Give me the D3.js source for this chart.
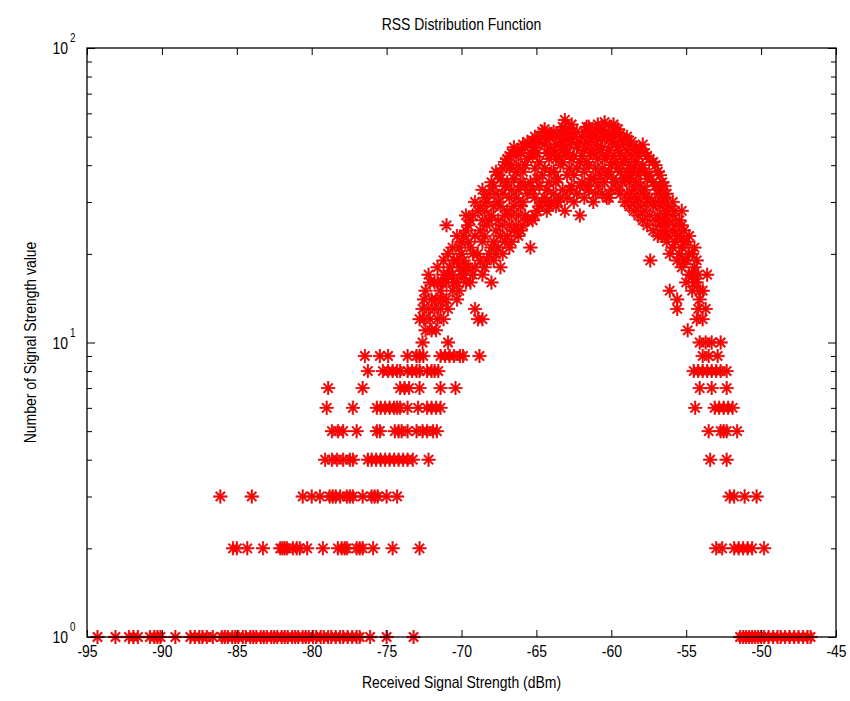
<!DOCTYPE html>
<html>
<head>
<meta charset="utf-8">
<script src="https://cdn.jsdelivr.net/npm/d3@7/dist/d3.min.js"></script>
<style>
  html, body { margin: 0; padding: 0; background: #fff; }
  text { font-family: "Liberation Sans", Arial, Helvetica, sans-serif; fill: #000; }
</style>
</head>
<body>
<svg id="chart" width="850" height="701"></svg>
<script>
// ---------------- data ----------------
const chartTitle = "RSS Distribution Function";
const xLabel = "Received Signal Strength (dBm)";
const yLabel = "Number of Signal Strength value";

const xTicks = [-95, -90, -85, -80, -75, -70, -65, -60, -55, -50, -45];
const yMajorTicks = [1, 10, 100];
const yMajorExponents = ["0", "1", "2"];
const yMinorTicks = [2, 3, 4, 5, 6, 7, 8, 9, 20, 30, 40, 50, 60, 70, 80, 90];

// low counts: one row of RSS values per count level
const lowCountLevels = [1, 2, 3, 4, 5, 6, 7, 8, 9, 10];
const lowRssByLevel = [
  [-94.3,-93.1,-92.2,-91.9,-91.6,-90.8,-90.5,-90.3,-90.1,-89.1,-88.1,-87.8,-87.5,-87.3,-87.0,-86.6,
   -86.0,-85.8,-85.6,-85.3,-85.1,-84.9,-84.6,-84.4,-84.1,-83.9,-83.7,-83.4,-83.2,-83.0,-82.7,-82.5,
   -82.3,-82.0,-81.8,-81.6,-81.3,-81.1,-80.9,-80.6,-80.4,-80.2,-79.9,-79.7,-79.4,-79.2,-78.9,-78.7,
   -78.4,-78.1,-77.9,-77.6,-77.3,-77.0,-76.8,-76.1,-75.0,-73.2,
   -51.4,-51.2,-51.0,-50.8,-50.6,-50.4,-50.2,-50.0,-49.8,-49.5,-49.2,-48.9,-48.7,-48.4,-48.1,-47.8,
   -47.5,-47.2,-46.9,-46.7],
  [-85.25,-85.0,-84.3,-83.25,-82.1,-81.95,-81.8,-81.65,-81.25,-81.0,-80.8,-80.3,-79.25,-78.25,-78.0,
   -77.8,-77.65,-77.0,-76.8,-76.6,-75.9,-74.6,-72.8,-53.0,-52.6,-51.8,-51.5,-51.2,-50.9,-50.6,-49.8],
  [-86.1,-84.0,-80.6,-80.0,-79.45,-78.8,-78.6,-78.4,-78.1,-77.65,-77.45,-77.25,-76.6,-76.0,-75.8,
   -75.6,-75.0,-74.3,-52.1,-51.8,-51.1,-50.3],
  [-79.1,-78.65,-78.3,-77.9,-77.45,-77.25,-76.25,-76.0,-75.7,-75.4,-75.1,-74.8,-74.5,-74.2,-73.9,
   -73.6,-73.25,-72.2,-53.4,-52.3],
  [-78.65,-78.25,-77.9,-77.0,-75.65,-75.45,-74.45,-74.2,-74.0,-73.6,-73.0,-72.6,-72.3,-71.9,-71.65,
   -53.5,-52.7,-52.5,-52.3,-51.6],
  [-79.0,-77.25,-75.65,-75.4,-75.1,-74.8,-74.5,-74.3,-74.1,-73.6,-72.9,-72.3,-72.0,-71.7,-71.4,
   -54.4,-53.1,-52.8,-52.5,-52.2,-51.9],
  [-78.9,-76.6,-74.1,-73.8,-73.5,-72.8,-71.4,-70.4,-54.1,-53.3,-52.3],
  [-76.25,-75.25,-74.9,-74.6,-74.3,-74.1,-73.6,-73.3,-73.0,-72.8,-72.3,-72.0,-71.8,-71.55,
   -54.5,-54.2,-53.9,-53.6,-53.3,-53.0,-52.7,-52.3],
  [-76.45,-75.45,-74.9,-73.6,-73.0,-72.8,-72.55,-71.4,-71.1,-70.8,-70.5,-70.1,-69.9,-68.8,
   -53.9,-53.5,-52.9],
  [-72.6,-70.9,-54.1,-53.7,-53.3,-52.7]
];

// high counts: one column per RSS value, with the counts observed there
const highColumnRss = [
  -72.8,-72.6,-72.4,-72.2,-72.0,-71.8,-71.6,-71.4,-71.2,-71.0,-70.8,-70.6,-70.3,-70.0,-69.7,-69.4,
  -69.1,-68.9,-68.6,-68.3,-68.0,-67.7,-67.4,-67.1,-66.8,-66.5,-66.2,-65.9,-65.6,-65.4,-65.1,-64.8,
  -64.6,-64.3,-64.0,-63.7,-63.4,-63.1,-62.8,-62.5,-62.1,-61.8,-61.5,-61.2,-60.9,-60.6,-60.3,-60.0,
  -59.7,-59.4,-59.1,-58.8,-58.5,-58.2,-57.9,-57.6,-57.4,-57.2,-56.9,-56.6,-56.3,-56.1,-55.9,-55.6,
  -55.3,-55.0,-54.9,-54.6,-54.3,-54.1,-53.7,-53.6,
  -72.5,-72.1,-71.7,-71.3,-70.9,-70.5,-70.15,-69.85,-69.55,-69.25,-68.75,-68.45,-68.15,-67.85,-67.55,
  -67.25,-66.95,-66.65,-66.35,-66.05,-65.75,-65.25,-64.95,-64.45,-64.15,-63.85,-63.55,-63.25,-62.95,
  -62.65,-62.3,-61.95,-61.65,-61.35,-61.05,-60.75,-60.45,-60.15,-59.85,-59.55,-59.25,-58.95,-58.65,
  -58.35,-58.05,-57.75,-57.45,-57.05,-56.75,-56.45,-56.2,-55.75,-55.45,-55.15,-54.8,-54.45,-54.2,-53.9
];
const highColumnCounts = [
  [12],[13],[11,15],[13,17],[11,14],[16,13],[12,16,18],[13,15],[12,17,19],[14,25,16],[18],[15,17,21],
  [14,16,19,23],[17,20,22],[16,18,24,27],[16,21,26],[13,18,23,30],[12,20,28],[12,17,22,26,33],
  [19,25,30],[16,21,27,35],[20,24,32,38],[18,23,29,36],[22,27,34,41],[21,25,31,39,43],[24,29,36,46],
  [23,27,33,40,45],[25,30,38,47],[26,32,42,48],[21,35,44],[27,31,39,46,50],[29,34,41,48],
  [52,37,30],[28,33,44,49],[30,38,45,51],[29,35,42,47],[31,40,46,52],[57,28,44,49],[33,39,47,53],
  [30,37,43,50],[27,34,41,48],[31,38,45,52],[33,40,47,54],[30,36,44,50],[34,42,49,55],[32,39,46,53],
  [31,37,43,50],[33,40,48,54],[35,41,47,52],[32,38,44,51],[30,36,42,49],[29,35,40,47],[28,33,39,45],
  [27,31,37,43],[26,32,40,47],[25,30,36,43],[19],[24,29,35,41],[23,27,32,38],[23,26,30,35],
  [22,25,28,32],[15,20],[21,24,27,30],[13,14,19,23],[18,21,25,28],[16,19,22],[11],[15,17,20],
  [12,16,19],[14,15],[13],[17],
  [12,14],[12,16],[14,11],[14,16],[13,17,20],[16,19],[15,18,21],[17,19,23],[18,22,25],[17,20,27],
  [19,24,29],[18,23,28,31],[20,26,32],[19,22,29,34],[21,26,30,37],[20,25,32,39],[23,28,35,42],
  [22,27,33,44,40],[25,31,38,43],[24,29,35,44],[27,34,40,46],[26,33,43,48],[28,36,44,49],
  [31,39,47,53],[29,35,42,50],[32,38,45,52],[30,36,43,50],[33,41,48,54],[31,37,44,51],
  [34,42,49,55],[32,39,46,52],[35,43,50],[34,41,48,54],[36,44,51],[32,39,47,53],[37,45,52],
  [35,42,50,56],[31,38,45,51],[36,43,50,55],[33,39,46,53],[35,41,48],[32,38,45,50],[31,37,43,48],
  [30,35,41,46],[29,34,39,45],[28,33,38,44],[27,31,37,42],[26,30,34,40],[25,29,33,37],[24,27,31,34],
  [23,26,29],[22,25,28],[20,23,26],[19,22,24],[17,20,23],[16,18,21],[13,17],[12,15]
];

// ---------------- chart ----------------
const svg = d3.select("#chart");
const plot = { left: 87, right: 836, top: 48, bottom: 637 };
const FONT = '"Liberation Sans Narrow", "Liberation Sans", Arial, sans-serif';
const FS = 17;

const x = d3.scaleLinear().domain([-95, -45]).range([plot.left, plot.right]);
const y = d3.scaleLog().domain([1, 100]).range([plot.bottom, plot.top]);

// condense text to a narrow look (keeps the tall glyphs of the reference)
function condense(sel, factor) {
  sel.each(function () {
    const fam = window.getComputedStyle(this).fontFamily || "";
    const w = this.getComputedTextLength();
    const f = /Narrow/.test(fam) && document.fonts && document.fonts.check(`${FS}px "Liberation Sans Narrow"`) ? 1 : factor;
    if (w > 0 && f !== 1) {
      d3.select(this).attr("textLength", w * f).attr("lengthAdjust", "spacingAndGlyphs");
    }
  });
}

// build point list from the arrays
const points = [];
lowCountLevels.forEach((c, i) => lowRssByLevel[i].forEach(r => points.push({ rss: r, count: c })));
highColumnRss.forEach((r, i) => highColumnCounts[i].forEach(c => points.push({ rss: r, count: c })));

svg.append("rect").attr("x", 0).attr("y", 0).attr("width", 850).attr("height", 701).attr("fill", "#fff");

// markers (asterisks)
const armLong = 7, armDiag = 4.6;
const starPath = `M${-armLong},0H${armLong}M0,${-armLong}V${armLong}` +
  `M${-armDiag},${-armDiag}L${armDiag},${armDiag}M${-armDiag},${armDiag}L${armDiag},${-armDiag}`;

const marks = svg.append("g").attr("class", "marks");
marks.append("g").selectAll("path")
  .data(points)
  .join("path")
  .attr("transform", d => `translate(${x(d.rss)},${y(d.count)})`)
  .attr("d", starPath)
  .attr("fill", "none")
  .attr("stroke", "#9a1010")
  .attr("stroke-width", 2.3)
  .attr("stroke-opacity", 0.55);
marks.append("g").selectAll("path")
  .data(points)
  .join("path")
  .attr("transform", d => `translate(${x(d.rss)},${y(d.count)})`)
  .attr("d", starPath)
  .attr("fill", "none")
  .attr("stroke", "#ff0000")
  .attr("stroke-width", 1.5);

// axes: ticks inward on all sides
const tickLen = 7;
const xBottom = d3.axisBottom(x).tickValues(xTicks).tickSizeInner(-tickLen).tickSizeOuter(0)
  .tickPadding(8).tickFormat(d3.format("d"));
const gxb = svg.append("g").attr("transform", `translate(0,${plot.bottom})`).call(xBottom);
gxb.select(".domain").remove();
gxb.selectAll("text").attr("font-size", FS).attr("font-family", FONT)
  .attr("dy", "0.71em").text(d => String(d).replace("\u2212", "-"));
condense(gxb.selectAll("text"), 0.82);

const xTop = d3.axisTop(x).tickValues(xTicks).tickSizeInner(-tickLen).tickSizeOuter(0).tickFormat("");
const gxt = svg.append("g").attr("transform", `translate(0,${plot.top})`).call(xTop);
gxt.select(".domain").remove();

// y major & minor ticks, left and right
const yLeftMajor = d3.axisLeft(y).tickValues(yMajorTicks).tickSizeInner(-8).tickSizeOuter(0).tickFormat("");
const yLeftMinor = d3.axisLeft(y).tickValues(yMinorTicks).tickSizeInner(-5).tickSizeOuter(0).tickFormat("");
const yRightMajor = d3.axisRight(y).tickValues(yMajorTicks).tickSizeInner(-8).tickSizeOuter(0).tickFormat("");
const yRightMinor = d3.axisRight(y).tickValues(yMinorTicks).tickSizeInner(-5).tickSizeOuter(0).tickFormat("");
[
  [yLeftMajor, plot.left], [yLeftMinor, plot.left],
  [yRightMajor, plot.right], [yRightMinor, plot.right]
].forEach(([ax, tx]) => {
  const g = svg.append("g").attr("transform", `translate(${tx},0)`).call(ax);
  g.select(".domain").remove();
});
svg.selectAll(".tick line").attr("stroke", "#000").attr("stroke-width", 1);

// y tick labels 10^n
const yLab = svg.append("g").attr("class", "ylabels");
yMajorTicks.forEach((v, i) => {
  const yy = y(v);
  const t = yLab.append("text").attr("x", 68).attr("y", yy + 6).attr("text-anchor", "end")
    .attr("font-size", FS).attr("font-family", FONT).text("10");
  condense(t, 0.82);
  const s = yLab.append("text").attr("x", 70).attr("y", yy - 6).attr("text-anchor", "start")
    .attr("font-size", 12).attr("font-family", FONT).text(yMajorExponents[i]);
  condense(s, 0.82);
});

// box
svg.append("rect")
  .attr("x", plot.left).attr("y", plot.top)
  .attr("width", plot.right - plot.left).attr("height", plot.bottom - plot.top)
  .attr("fill", "none").attr("stroke", "#000").attr("stroke-width", 1.3);

// title & labels
const tt = svg.append("text").attr("x", (plot.left + plot.right) / 2).attr("y", 30)
  .attr("text-anchor", "middle").attr("font-size", FS).attr("font-family", FONT).text(chartTitle);
const xl = svg.append("text").attr("x", (plot.left + plot.right) / 2).attr("y", 688)
  .attr("text-anchor", "middle").attr("font-size", FS).attr("font-family", FONT).text(xLabel);
const yl = svg.append("text")
  .attr("transform", `translate(36,${(plot.top + plot.bottom) / 2}) rotate(-90)`)
  .attr("text-anchor", "middle").attr("font-size", FS).attr("font-family", FONT).text(yLabel);
condense(tt, 0.82); condense(xl, 0.82); condense(yl, 0.82);
</script>
</body>
</html>
